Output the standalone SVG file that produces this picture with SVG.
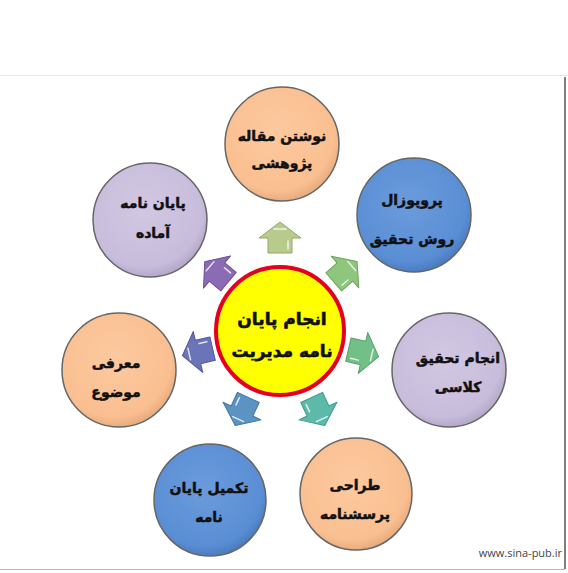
<svg xmlns="http://www.w3.org/2000/svg" width="568" height="573" viewBox="0 0 568 573">
<defs>
<style>
.t{font-family:"DejaVu Sans",sans-serif;font-weight:bold;font-size:14px;fill:#111;stroke:#111;stroke-width:0.5;text-anchor:middle;}
.c{font-family:"DejaVu Sans",sans-serif;font-weight:bold;font-size:17px;fill:#111;stroke:#111;stroke-width:0.6;text-anchor:middle;}
.node{stroke:#666;stroke-width:1.5;}
.arr{stroke-width:1;stroke-linejoin:round;}
.hl{fill:none;stroke:#fff;stroke-width:1.5;stroke-opacity:0.8;stroke-linecap:round;}
</style>
<radialGradient id="gPeach" cx="0.45" cy="0.4" r="0.6"><stop offset="0" stop-color="#FCC9A0"/><stop offset="0.85" stop-color="#FABF90"/><stop offset="1" stop-color="#E8AC7E"/></radialGradient>
<radialGradient id="gBlue" cx="0.45" cy="0.4" r="0.6"><stop offset="0" stop-color="#6A9BDC"/><stop offset="0.85" stop-color="#5A8ED4"/><stop offset="1" stop-color="#4A7CC0"/></radialGradient>
<radialGradient id="gLav" cx="0.45" cy="0.4" r="0.6"><stop offset="0" stop-color="#D2C8E2"/><stop offset="0.85" stop-color="#C8BCDB"/><stop offset="1" stop-color="#B5A8CA"/></radialGradient>
<path id="arrow" d="M0,-16 L21,0 L12,0 L12,15 L-12,15 L-12,0 L-21,0 Z"/>
</defs>
<rect width="568" height="573" fill="#fff"/>
<g id="frame">
<line x1="0" y1="75.5" x2="568" y2="75.5" stroke="#e6e6e6" stroke-width="1"/>
<line x1="565" y1="77" x2="565" y2="569" stroke="#555" stroke-width="1.5"/>
<line x1="0" y1="569.5" x2="565" y2="569.5" stroke="#bbb" stroke-width="1"/>
</g>
<g id="connectors">
<g transform="translate(280,238) rotate(0)"><use href="#arrow" class="arr" fill="#B7CB8C" stroke="#93A86A"/><path class="hl" d="M-6,-9 L6,-9 M8,3 L8,11"/></g>
<g transform="translate(345,272) rotate(49)"><use href="#arrow" class="arr" fill="#8DC67C" stroke="#6CA55C"/><path class="hl" d="M-6,-9 L6,-9 M8,3 L8,11"/></g>
<g transform="translate(363,353) rotate(103)"><use href="#arrow" class="arr" fill="#73BF88" stroke="#55A06B"/><path class="hl" d="M-6,-9 L6,-9 M8,3 L8,11"/></g>
<g transform="translate(318,411) rotate(155)"><use href="#arrow" class="arr" fill="#5DB9AA" stroke="#3F998B"/><path class="hl" d="M-6,-9 L6,-9 M8,3 L8,11"/></g>
<g transform="translate(242,411) rotate(205)"><use href="#arrow" class="arr" fill="#5B93C2" stroke="#3F75A3"/><path class="hl" d="M-6,-9 L6,-9 M8,3 L8,11"/></g>
<g transform="translate(198,352) rotate(257)"><use href="#arrow" class="arr" fill="#6C74B9" stroke="#50589C"/><path class="hl" d="M-6,-9 L6,-9 M8,3 L8,11"/></g>
<g transform="translate(217,272) rotate(310)"><use href="#arrow" class="arr" fill="#8A6BB4" stroke="#6C4E96"/><path class="hl" d="M-6,-9 L6,-9 M8,3 L8,11"/></g>
</g>
<g id="center">
<circle cx="280" cy="331" r="64" fill="#FFFF00" stroke="#E5001F" stroke-width="4"/>
<text class="c" x="282" y="325">انجام پایان</text>
<text class="c" x="282" y="357">نامه مدیریت</text>
</g>
<g id="n-top">
<circle class="node" cx="282" cy="144" r="57" fill="url(#gPeach)"/>
<text class="t" x="282" y="141">نوشتن مقاله</text>
<text class="t" x="282" y="168">پژوهشی</text>
</g>
<g id="n-topright">
<circle class="node" cx="414" cy="215" r="57" fill="url(#gBlue)"/>
<text class="t" x="412" y="205">پروپوزال</text>
<text class="t" x="412" y="244">روش تحقیق</text>
</g>
<g id="n-right">
<circle class="node" cx="449" cy="370" r="57" fill="url(#gLav)"/>
<text class="t" x="458" y="363">انجام تحقیق</text>
<text class="t" x="458" y="392">کلاسی</text>
</g>
<g id="n-bottomright">
<circle class="node" cx="356" cy="494" r="56" fill="url(#gPeach)"/>
<text class="t" x="355" y="490">طراحی</text>
<text class="t" x="355" y="519">پرسشنامه</text>
</g>
<g id="n-bottomleft">
<circle class="node" cx="210" cy="500" r="56" fill="url(#gBlue)"/>
<text class="t" x="209" y="493">تکمیل پایان</text>
<text class="t" x="209" y="522">نامه</text>
</g>
<g id="n-left">
<circle class="node" cx="119" cy="370" r="57" fill="url(#gPeach)"/>
<text class="t" x="116" y="368">معرفی</text>
<text class="t" x="116" y="397">موضوع</text>
</g>
<g id="n-topleft">
<circle class="node" cx="150" cy="220" r="57" fill="url(#gLav)"/>
<text class="t" x="153" y="208">پایان نامه</text>
<text class="t" x="153" y="238">آماده</text>
</g>
<text x="562" y="557" font-family="'Open Sans',sans-serif" font-size="11" fill="#444" text-anchor="end">www.sina-pub.ir</text>
</svg>
